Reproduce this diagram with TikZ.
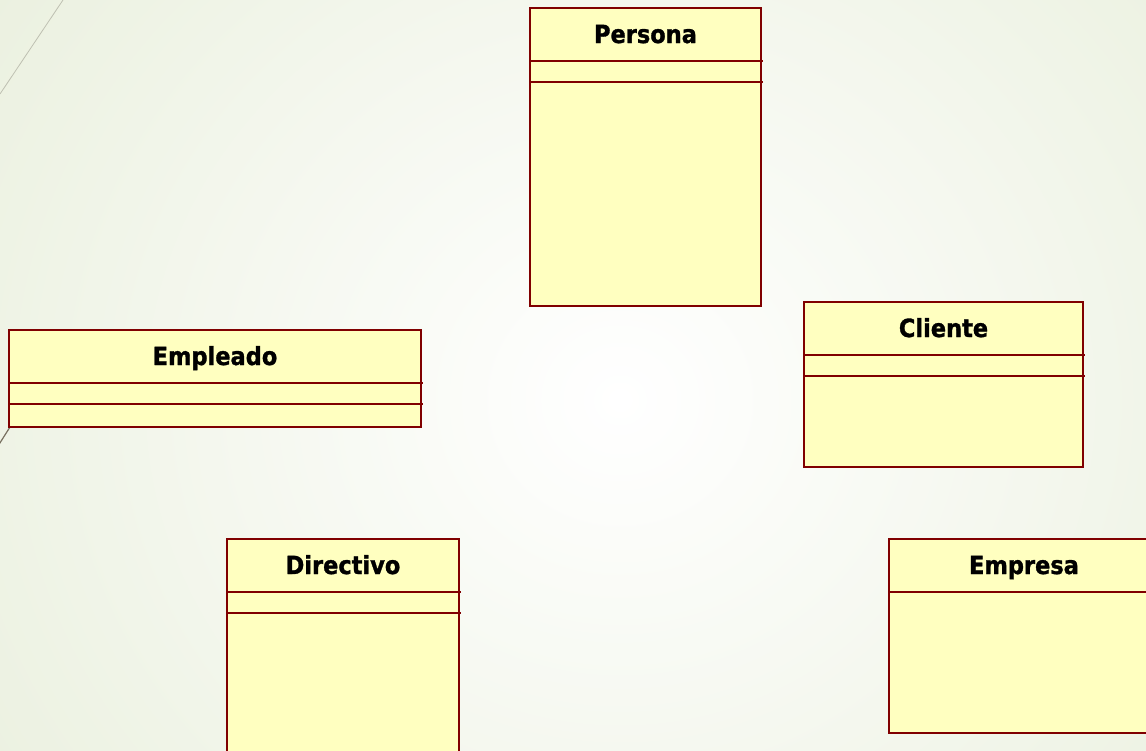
\documentclass[tikz,border=0pt]{standalone}
\usepackage{fontspec}
\setmainfont{DejaVu Sans}
\newfontface\umlfont[FakeStretch=0.9,FakeBold=1.2]{DejaVu Sans Bold}
\usetikzlibrary{calc}
\definecolor{umlborder}{RGB}{128,0,0}
\definecolor{umlfill}{RGB}{255,255,192}
\definecolor{bgedge}{RGB}{230,237,216}
\definecolor{decoline}{RGB}{190,192,178}
\definecolor{decodark}{RGB}{120,112,96}
\tikzset{
  classbox/.style={draw=umlborder, fill=umlfill, line width=2pt, anchor=north west,
    inner sep=0pt, outer sep=0pt},
  classname/.style={font=\umlfont\fontsize{25}{28}\selectfont, text=black,
    inner sep=0pt, anchor=base},
  sep/.style={draw=umlborder, line width=2pt}
}
\begin{document}
\begin{tikzpicture}[x=1pt,y=-1pt]
  \useasboundingbox (0,0) rectangle (1146,750);
  \clip (0,0) rectangle (1146,750);
  % slide background: soft radial glow around the middle
  \fill[bgedge] (0,0) rectangle (1146,750);
  \shade[inner color=white, outer color=bgedge] (-330,-500) rectangle (1570,1300);
  % decorative strokes
  \coordinate (d1a) at (63,0);
  \coordinate (d1b) at (0,94);
  \draw[decoline, line width=0.8pt] (d1a) -- (d1b);
  \coordinate (d2a) at (10,427);
  \coordinate (d2b) at (-2,446);
  \draw[decodark, line width=1.2pt] (d2a) -- (d2b);

  % Persona
  \node[classbox, minimum width=231pt, minimum height=298pt] (persona) at (530,8) {};
  \node[classname] (personaT) at ($(persona.north)+(0,35)$) {Persona};
  \draw[sep] ($(persona.north west)+(0,53)$) -- ($(persona.north east)+(2,53)$);
  \draw[sep] ($(persona.north west)+(0,74)$) -- ($(persona.north east)+(2,74)$);

  % Empleado
  \node[classbox, minimum width=412pt, minimum height=97pt] (empleado) at (9,330) {};
  \node[classname] (empleadoT) at ($(empleado.north)+(0,35)$) {Empleado};
  \draw[sep] ($(empleado.north west)+(0,53)$) -- ($(empleado.north east)+(2,53)$);
  \draw[sep] ($(empleado.north west)+(0,74)$) -- ($(empleado.north east)+(2,74)$);

  % Cliente
  \node[classbox, minimum width=279pt, minimum height=165pt] (cliente) at (804,302) {};
  \node[classname] (clienteT) at ($(cliente.north)+(0,35)$) {Cliente};
  \draw[sep] ($(cliente.north west)+(0,53)$) -- ($(cliente.north east)+(2,53)$);
  \draw[sep] ($(cliente.north west)+(0,74)$) -- ($(cliente.north east)+(2,74)$);

  % Directivo
  \node[classbox, minimum width=232pt, minimum height=240pt] (directivo) at (227,539) {};
  \node[classname] (directivoT) at ($(directivo.north)+(0,35)$) {Directivo};
  \draw[sep] ($(directivo.north west)+(0,53)$) -- ($(directivo.north east)+(2,53)$);
  \draw[sep] ($(directivo.north west)+(0,74)$) -- ($(directivo.north east)+(2,74)$);

  % Empresa
  \node[classbox, minimum width=270pt, minimum height=194pt] (empresa) at (889,539) {};
  \node[classname] (empresaT) at ($(empresa.north west)+(135,35)$) {Empresa};
  \draw[sep] ($(empresa.north west)+(0,53)$) -- ($(empresa.north east)+(2,53)$);
\end{tikzpicture}
\end{document}
